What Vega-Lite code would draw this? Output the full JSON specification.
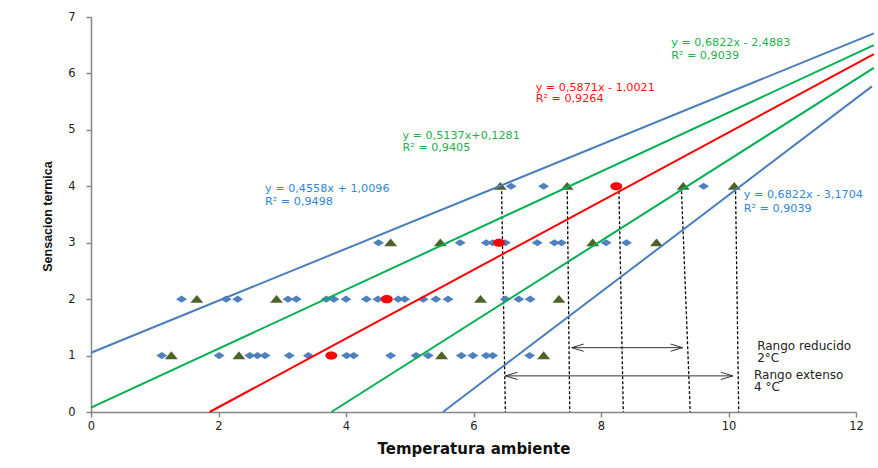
{
  "$schema": "https://vega.github.io/schema/vega-lite/v6.json",
  "width": 765,
  "height": 395,
  "autosize": {"type": "none"},
  "padding": {"left": 91, "top": 17, "right": 22, "bottom": 56},
  "background": "white",
  "config": {
    "view": {"stroke": null},
    "axis": {
      "grid": false,
      "domainColor": "#868686",
      "domainWidth": 1.5,
      "tickColor": "#868686",
      "tickWidth": 1.5,
      "tickSize": 5,
      "labelFlush": false,
      "labelFont": "DejaVu Sans",
      "labelFontSize": 11.5,
      "labelColor": "#222222",
      "titleColor": "#111111",
      "titleFontWeight": "bold"
    }
  },
  "datasets": {
    "points": [
      {"x": 1.11, "y": 1, "s": "d"}, {"x": 2.01, "y": 1, "s": "d"}, {"x": 2.49, "y": 1, "s": "d"}, {"x": 2.61, "y": 1, "s": "d"},
      {"x": 2.73, "y": 1, "s": "d"}, {"x": 3.11, "y": 1, "s": "d"}, {"x": 3.41, "y": 1, "s": "d"}, {"x": 4.01, "y": 1, "s": "d"},
      {"x": 4.12, "y": 1, "s": "d"}, {"x": 4.70, "y": 1, "s": "d"}, {"x": 5.10, "y": 1, "s": "d"}, {"x": 5.29, "y": 1, "s": "d"},
      {"x": 5.81, "y": 1, "s": "d"}, {"x": 5.99, "y": 1, "s": "d"}, {"x": 6.20, "y": 1, "s": "d"}, {"x": 6.30, "y": 1, "s": "d"},
      {"x": 6.88, "y": 1, "s": "d"},
      {"x": 1.42, "y": 2, "s": "d"}, {"x": 2.12, "y": 2, "s": "d"}, {"x": 2.30, "y": 2, "s": "d"}, {"x": 3.09, "y": 2, "s": "d"},
      {"x": 3.22, "y": 2, "s": "d"}, {"x": 3.69, "y": 2, "s": "d"}, {"x": 3.81, "y": 2, "s": "d"}, {"x": 4.00, "y": 2, "s": "d"},
      {"x": 4.32, "y": 2, "s": "d"}, {"x": 4.50, "y": 2, "s": "d"}, {"x": 4.82, "y": 2, "s": "d"}, {"x": 4.92, "y": 2, "s": "d"},
      {"x": 5.21, "y": 2, "s": "d"}, {"x": 5.41, "y": 2, "s": "d"}, {"x": 5.60, "y": 2, "s": "d"}, {"x": 6.50, "y": 2, "s": "d"},
      {"x": 6.71, "y": 2, "s": "d"}, {"x": 6.89, "y": 2, "s": "d"},
      {"x": 4.51, "y": 3, "s": "d"}, {"x": 5.79, "y": 3, "s": "d"}, {"x": 6.20, "y": 3, "s": "d"}, {"x": 6.30, "y": 3, "s": "d"},
      {"x": 6.50, "y": 3, "s": "d"}, {"x": 7.00, "y": 3, "s": "d"}, {"x": 7.27, "y": 3, "s": "d"}, {"x": 7.38, "y": 3, "s": "d"},
      {"x": 8.08, "y": 3, "s": "d"}, {"x": 8.40, "y": 3, "s": "d"},
      {"x": 6.59, "y": 4, "s": "d"}, {"x": 7.10, "y": 4, "s": "d"}, {"x": 9.61, "y": 4, "s": "d"},
      {"x": 1.26, "y": 1, "s": "t"}, {"x": 2.32, "y": 1, "s": "t"}, {"x": 5.50, "y": 1, "s": "t"}, {"x": 7.10, "y": 1, "s": "t"},
      {"x": 1.66, "y": 2, "s": "t"}, {"x": 2.91, "y": 2, "s": "t"}, {"x": 6.11, "y": 2, "s": "t"}, {"x": 7.34, "y": 2, "s": "t"},
      {"x": 4.70, "y": 3, "s": "t"}, {"x": 5.48, "y": 3, "s": "t"}, {"x": 7.87, "y": 3, "s": "t"}, {"x": 8.87, "y": 3, "s": "t"},
      {"x": 6.42, "y": 4, "s": "t"}, {"x": 7.47, "y": 4, "s": "t"}, {"x": 9.29, "y": 4, "s": "t"}, {"x": 10.09, "y": 4, "s": "t"},
      {"x": 3.77, "y": 1, "s": "c"}, {"x": 4.64, "y": 2, "s": "c"}, {"x": 6.40, "y": 3, "s": "c"}, {"x": 8.24, "y": 4, "s": "c"}
    ],
    "trend": [
      {"l": "azul_sup", "x": 0, "y": 1.05}, {"l": "azul_sup", "x": 12.28, "y": 6.71},
      {"l": "verde_sup", "x": 0, "y": 0.076}, {"l": "verde_sup", "x": 12.28, "y": 6.50},
      {"l": "rojo", "x": 1.86, "y": 0}, {"l": "rojo", "x": 12.28, "y": 6.34},
      {"l": "verde_inf", "x": 3.77, "y": 0}, {"l": "verde_inf", "x": 12.28, "y": 6.10},
      {"l": "azul_inf", "x": 5.52, "y": 0}, {"l": "azul_inf", "x": 12.25, "y": 5.77}
    ],
    "dashed": [
      {"id": 1, "x": 6.44, "y": 4}, {"id": 1, "x": 6.50, "y": 0},
      {"id": 2, "x": 7.47, "y": 4}, {"id": 2, "x": 7.51, "y": 0},
      {"id": 3, "x": 8.28, "y": 4}, {"id": 3, "x": 8.35, "y": 0},
      {"id": 4, "x": 9.26, "y": 4}, {"id": 4, "x": 9.40, "y": 0},
      {"id": 5, "x": 10.11, "y": 4}, {"id": 5, "x": 10.16, "y": 0}
    ],
    "arrows": [
      {"rango": "reducido", "x": 7.54, "x2": 9.28, "y": 1.14},
      {"rango": "extenso", "x": 6.50, "x2": 10.07, "y": 0.64}
    ],
    "heads": [
      {"x": 7.54, "y": 1.14, "dir": "izq"}, {"x": 9.28, "y": 1.14, "dir": "der"},
      {"x": 6.50, "y": 0.64, "dir": "izq"}, {"x": 10.07, "y": 0.64, "dir": "der"}
    ],
    "labels": [
      {"t": "y = 0,4558x + 1,0096", "x": 2.73, "y": 3.96, "g": "azul"},
      {"t": "R² = 0,9498", "x": 2.73, "y": 3.73, "g": "azul"},
      {"t": "y = 0,5137x+0,1281", "x": 4.885, "y": 4.89, "g": "verde"},
      {"t": "R² = 0,9405", "x": 4.885, "y": 4.68, "g": "verde"},
      {"t": "y = 0,5871x - 1,0021", "x": 6.975, "y": 5.75, "g": "rojo"},
      {"t": "R² = 0,9264", "x": 6.975, "y": 5.54, "g": "rojo"},
      {"t": "y = 0,6822x - 2,4883", "x": 9.10, "y": 6.54, "g": "verde"},
      {"t": "R² = 0,9039", "x": 9.10, "y": 6.31, "g": "verde"},
      {"t": "y = 0,6822x - 3,1704", "x": 10.24, "y": 3.85, "g": "azul"},
      {"t": "R² = 0,9039", "x": 10.24, "y": 3.60, "g": "azul"}
    ],
    "notes": [
      {"t": "Rango reducido", "x": 10.45, "y": 1.17},
      {"t": "2°C", "x": 10.45, "y": 0.95},
      {"t": "Rango extenso", "x": 10.40, "y": 0.66},
      {"t": "4 °C", "x": 10.40, "y": 0.44}
    ]
  },
  "encoding": {
    "x": {
      "field": "x", "type": "quantitative",
      "scale": {"domain": [0, 12], "nice": false, "zero": false},
      "axis": {
        "values": [0, 2, 4, 6, 8, 10, 12],
        "title": "Temperatura ambiente",
        "titleFont": "DejaVu Sans",
        "titleFontSize": 15,
        "titleBaseline": "middle",
        "titleY": 36,
        "labelPadding": 3
      }
    },
    "y": {
      "field": "y", "type": "quantitative",
      "scale": {"domain": [0, 7], "nice": false, "zero": false},
      "axis": {
        "values": [0, 1, 2, 3, 4, 5, 6, 7],
        "title": "Sensacion termica",
        "titleFont": "Liberation Sans",
        "titleFontSize": 12.5,
        "titleBaseline": "middle",
        "titleX": -44,
        "titleY": 199,
        "labelPadding": 11
      }
    }
  },
  "layer": [
    {
      "data": {"name": "dashed"},
      "mark": {"type": "line", "color": "#000000", "strokeWidth": 1.3, "strokeDash": [3, 2]},
      "encoding": {"detail": {"field": "id", "type": "nominal"}}
    },
    {
      "data": {"name": "points"},
      "transform": [{"filter": "datum.s === 'd'"}],
      "mark": {"type": "point", "filled": true, "color": "#4F81BD", "opacity": 1, "size": 121, "shape": "M-1,0L0,-0.65L1,0L0,0.65Z"}
    },
    {
      "data": {"name": "points"},
      "transform": [{"filter": "datum.s === 't'"}],
      "mark": {"type": "point", "filled": true, "color": "#4F6228", "opacity": 1, "size": 169, "shape": "M-1,0.55L0,-0.65L1,0.55Z"}
    },
    {
      "data": {"name": "points"},
      "transform": [{"filter": "datum.s === 'c'"}],
      "mark": {"type": "point", "filled": true, "color": "#FF0000", "opacity": 1, "size": 144, "shape": "M-1,0A1,0.68,0,1,1,1,0A1,0.68,0,1,1,-1,0Z"}
    },
    {
      "data": {"name": "trend"},
      "mark": {"type": "line", "strokeWidth": 2, "clip": false},
      "encoding": {
        "color": {
          "field": "l", "type": "nominal", "legend": null,
          "scale": {"domain": ["azul_sup", "verde_sup", "rojo", "verde_inf", "azul_inf"], "range": ["#4A7EBB", "#00B050", "#FF0000", "#00B050", "#4A7EBB"]}
        }
      }
    },
    {
      "data": {"name": "arrows"},
      "mark": {"type": "rule", "color": "#333333", "strokeWidth": 1},
      "encoding": {"x2": {"field": "x2"}}
    },
    {
      "data": {"name": "heads"},
      "mark": {"type": "point", "filled": false, "color": "#333333", "strokeWidth": 1, "opacity": 1, "size": 144},
      "encoding": {
        "shape": {
          "field": "dir", "type": "nominal", "legend": null,
          "scale": {"domain": ["izq", "der"], "range": ["M2,-0.6L0,0L2,0.6", "M-2,-0.6L0,0L-2,0.6"]}
        }
      }
    },
    {
      "data": {"name": "labels"},
      "mark": {"type": "text", "align": "left", "baseline": "middle", "font": "DejaVu Sans", "fontSize": 11.2},
      "encoding": {
        "text": {"field": "t"},
        "color": {
          "field": "g", "type": "nominal", "legend": null,
          "scale": {"domain": ["azul", "verde", "rojo"], "range": ["#2F86D6", "#1DB04E", "#FF1010"]}
        }
      }
    },
    {
      "data": {"name": "notes"},
      "mark": {"type": "text", "align": "left", "baseline": "middle", "font": "DejaVu Sans", "fontSize": 12, "color": "#222222"},
      "encoding": {"text": {"field": "t"}}
    }
  ],
  "resolve": {"scale": {"color": "independent", "shape": "independent"}}
}
